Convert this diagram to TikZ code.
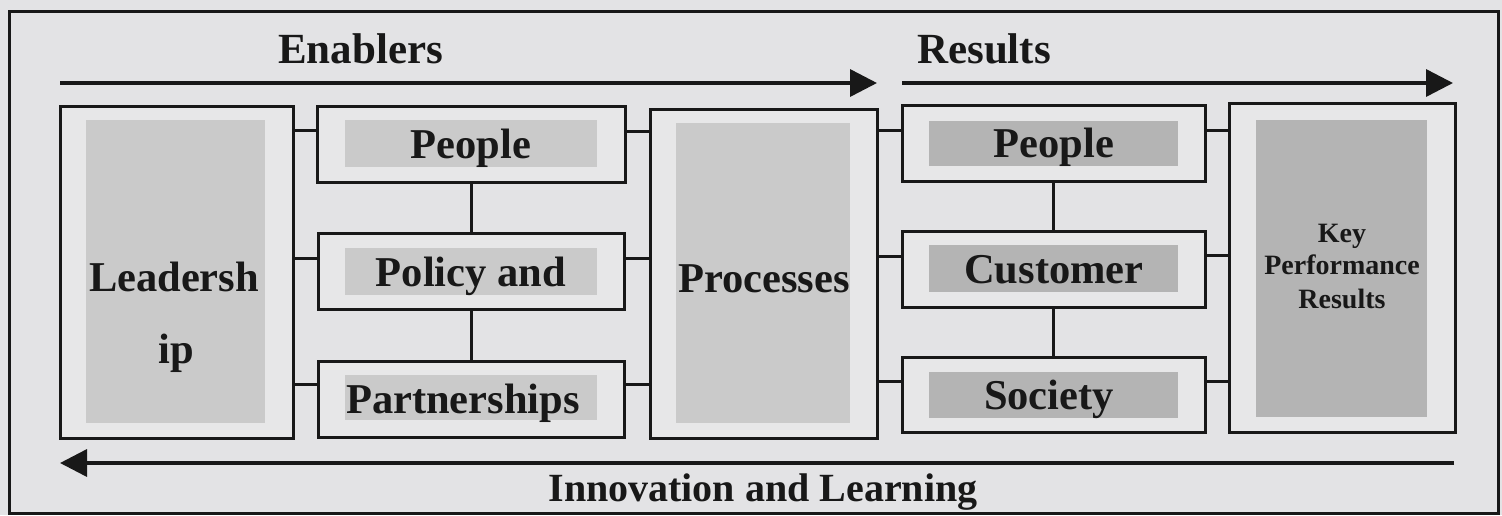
\documentclass[tikz,border=0pt]{standalone}
\usepackage{fontspec}
\setmainfont{Liberation Serif}
\usetikzlibrary{arrows.meta}
\definecolor{paper}{RGB}{227,227,229}
\definecolor{boxbg}{RGB}{231,231,232}
\definecolor{ink}{RGB}{24,24,24}
\definecolor{shadeA}{RGB}{202,202,202}
\definecolor{shadeB}{RGB}{180,180,180}
\begin{document}
\begin{tikzpicture}[x=1pt,y=-1pt,
  frame/.style={draw=ink,line width=3pt,fill=boxbg,inner sep=0pt},
  flow/.style={draw=ink,line width=3.5pt,-{Triangle[length=27pt,width=27pt]}},
  link/.style={draw=ink,line width=3pt},
  big/.style={font=\fontsize{42.5}{48}\selectfont\bfseries,text=ink,inner sep=0pt,anchor=base},
  small/.style={font=\fontsize{28}{33}\selectfont\bfseries,text=ink,inner sep=0pt,anchor=base},
  title/.style={font=\fontsize{43}{48}\selectfont\bfseries,text=ink,inner sep=0pt,anchor=base west}]
\useasboundingbox (0,0) rectangle (1502,515);
\fill[paper] (0,0) rectangle (1502,515);
\draw[ink,line width=3pt] (9,11) rectangle (1498,513);

% outer boxes (centre and size from left,top / right,bottom edges)
\node[frame,minimum width=233pt,minimum height=332pt] (lead) at (176.5,272) {};
\node[frame,minimum width=308pt,minimum height=76pt] (pE) at (471,144) {};
\node[frame,minimum width=306pt,minimum height=76pt] (pol) at (471,271) {};
\node[frame,minimum width=306pt,minimum height=76pt] (part) at (471,399) {};
\node[frame,minimum width=227pt,minimum height=329pt] (proc) at (763.5,273.5) {};
\node[frame,minimum width=303pt,minimum height=76pt] (pR) at (1053.5,143) {};
\node[frame,minimum width=303pt,minimum height=76pt] (cust) at (1053.5,269) {};
\node[frame,minimum width=303pt,minimum height=75pt] (soc) at (1053.5,394.5) {};
\node[frame,minimum width=226pt,minimum height=329pt] (kpr) at (1342,267.5) {};

% shaded panels inside the boxes
\fill[shadeA] (86,120) rectangle (265,423);
\fill[shadeA] (345,120) rectangle (597,167);
\fill[shadeA] (345,248) rectangle (597,295);
\fill[shadeA] (345,375) rectangle (597,420);
\fill[shadeA] (676,123) rectangle (850,423);
\fill[shadeB] (929,121) rectangle (1178,166);
\fill[shadeB] (929,245) rectangle (1178,292);
\fill[shadeB] (929,372) rectangle (1178,418);
\fill[shadeB] (1256,120) rectangle (1427,417);

% box labels
\node[big] (tLead1) at (174,291) {Leadersh};
\node[big] (tLead2) at (176,363) {ip};
\node[big] (tpE) at (471,158) {People};
\node[big] (tpol) at (471,286) {Policy and};
\node[big] (tpart) at (463,413) {Partnerships};
\node[big] (tproc) at (764,292) {Processes};
\node[big] (tpR) at (1054,157) {People};
\node[big] (tcust) at (1054,283) {Customer};
\node[big] (tsoc) at (1049,409) {Society};
\node[small] (tk1) at (1342,242) {Key};
\node[small] (tk2) at (1342,274) {Performance};
\node[small] (tk3) at (1342,308) {Results};

% connectors
\draw[link] (lead.east |- 0,130) -- (pE.west |- 0,130);
\draw[link] (lead.east |- 0,258) -- (pol.west |- 0,258);
\draw[link] (lead.east |- 0,384) -- (part.west |- 0,384);
\draw[link] (pE.east |- 0,131) -- (proc.west |- 0,131);
\draw[link] (pol.east |- 0,258) -- (proc.west |- 0,258);
\draw[link] (part.east |- 0,384) -- (proc.west |- 0,384);
\draw[link] (pE.south) -- (pol.north);
\draw[link] (pol.south) -- (part.north);
\draw[link] (proc.east |- 0,130) -- (pR.west |- 0,130);
\draw[link] (proc.east |- 0,256) -- (cust.west |- 0,256);
\draw[link] (proc.east |- 0,381) -- (soc.west |- 0,381);
\draw[link] (pR.east |- 0,130) -- (kpr.west |- 0,130);
\draw[link] (cust.east |- 0,255) -- (kpr.west |- 0,255);
\draw[link] (soc.east |- 0,381) -- (kpr.west |- 0,381);
\draw[link] (pR.south) -- (cust.north);
\draw[link] (cust.south) -- (soc.north);

% flow arrows and their titles
\coordinate (enS) at (60,83);
\coordinate (enE) at (877,83);
\coordinate (reS) at (902,83);
\coordinate (reE) at (1453,83);
\coordinate (inS) at (1454,463);
\coordinate (inE) at (60,463);
\draw[flow] (enS) -- (enE);
\draw[flow] (reS) -- (reE);
\draw[flow] (inS) -- (inE);
\node[title] (ten) at (278,63) {Enablers};
\node[title] (tre) at (917,63) {Results};
\node[big,font=\fontsize{40}{46}\selectfont\bfseries] (tin) at (763,501) {Innovation and Learning};
\end{tikzpicture}
\end{document}
